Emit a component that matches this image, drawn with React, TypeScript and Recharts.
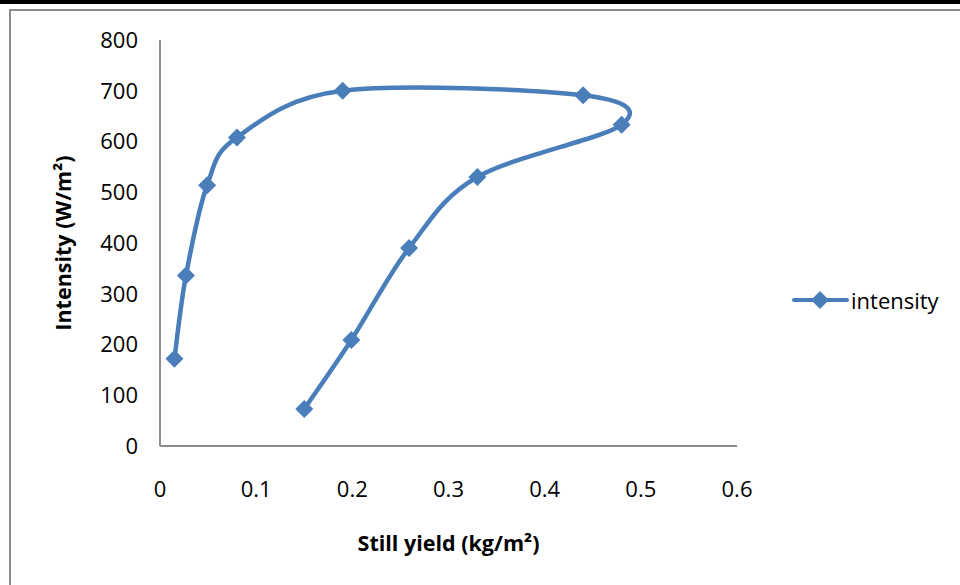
import React from "react"
import { LineChart, Line, XAxis, YAxis } from "recharts"

const stillYield = [0.015, 0.027, 0.049, 0.08, 0.19, 0.44, 0.48, 0.33, 0.259, 0.199, 0.15]
const intensity = [172, 336, 514, 608, 700, 691, 633, 530, 390, 209, 73]
const xTicks = [0, 0.1, 0.2, 0.3, 0.4, 0.5, 0.6]
const yTicks = [0, 100, 200, 300, 400, 500, 600, 700, 800]

const data = stillYield.map((x, i) => ({ x, intensity: intensity[i] }))

const BLUE = "#4a7ebb"
const FONT = "'Open Sans', Lato, sans-serif"

// smooth curve like Excel's "smoothed line" (Catmull-Rom as bezier)
const smoothCurve = (context: any) => {
  let pts: [number, number][] = []
  return {
    areaStart() {},
    areaEnd() {},
    lineStart() {
      pts = []
    },
    point(x: number, y: number) {
      pts.push([+x, +y])
    },
    lineEnd() {
      if (!pts.length) return
      context.moveTo(pts[0][0], pts[0][1])
      for (let i = 0; i < pts.length - 1; i++) {
        const p0 = pts[Math.max(0, i - 1)]
        const p1 = pts[i]
        const p2 = pts[i + 1]
        const p3 = pts[Math.min(pts.length - 1, i + 2)]
        context.bezierCurveTo(
          p1[0] + (p2[0] - p0[0]) / 6,
          p1[1] + (p2[1] - p0[1]) / 6,
          p2[0] - (p3[0] - p1[0]) / 6,
          p2[1] - (p3[1] - p1[1]) / 6,
          p2[0],
          p2[1]
        )
      }
    },
  }
}

function Diamond(props: any) {
  const { cx, cy } = props
  if (cx == null || cy == null) return null
  const r = 9
  return <path d={`M${cx},${cy - r}L${cx + r},${cy}L${cx},${cy + r}L${cx - r},${cy}Z`} fill={BLUE} />
}

function LegendBox() {
  return (
    <svg width={170} height={30} style={{ position: "absolute", left: 792, top: 285, overflow: "visible" }}>
      <line x1={2} y1={15} x2={55} y2={15} stroke={BLUE} strokeWidth={4} strokeLinecap="round" />
      <Diamond cx={28} cy={15} />
      <text x={59} y={15} dominantBaseline="central" fontSize={22} fontFamily={FONT} fill="#000">
        intensity
      </text>
    </svg>
  )
}

export default function App() {
  return (
    <div style={{ position: "fixed", left: 0, top: 0, width: 960, height: 585, background: "#fff", overflow: "hidden" }}>
      <div style={{ position: "absolute", left: 0, top: 0, width: 960, height: 4, background: "#000" }} />
      <div
        style={{
          position: "absolute",
          left: 9,
          top: 9,
          width: 980,
          height: 600,
          borderLeft: "2px solid #8c8c8c",
          borderTop: "2px solid #8c8c8c",
        }}
      />
      <div style={{ position: "absolute", left: 0, top: 0 }}>
        <LineChart width={960} height={585} data={data} margin={{ top: 40, right: 223, bottom: 0, left: 0 }}>
          <XAxis
            dataKey="x"
            type="number"
            domain={[0, 0.6]}
            ticks={xTicks}
            tickFormatter={(v: number) => String(+v.toFixed(1))}
            tickLine={false}
            tickSize={0}
            tickMargin={35}
            axisLine={{ stroke: "#8c8c8c", strokeWidth: 2 }}
            tick={{ fill: "#000", fontSize: 22, fontFamily: FONT }}
            interval={0}
            height={139}
            label={(p: any) => {
              const vb = p.viewBox
              return (
                <text
                  x={vb.x + vb.width / 2}
                  y={542}
                  textAnchor="middle"
                  dominantBaseline="central"
                  fontSize={21.5}
                  fontWeight="bold"
                  fontFamily={FONT}
                  fill="#000"
                >
                  Still yield (kg/m²)
                </text>
              )
            }}
          />
          <YAxis
            type="number"
            domain={[0, 800]}
            ticks={yTicks}
            width={160}
            tickLine={false}
            tickSize={0}
            tickMargin={22}
            axisLine={{ stroke: "#8c8c8c", strokeWidth: 2 }}
            tick={{ fill: "#000", fontSize: 22, fontFamily: FONT }}
            interval={0}
            label={(p: any) => {
              const vb = p.viewBox
              const cy = vb.y + vb.height / 2
              return (
                <text
                  x={62}
                  y={cy}
                  transform={`rotate(-90 62 ${cy})`}
                  textAnchor="middle"
                  dominantBaseline="central"
                  fontSize={21.5}
                  fontWeight="bold"
                  fontFamily={FONT}
                  fill="#000"
                >
                  Intensity (W/m²)
                </text>
              )
            }}
          />
          <Line
            dataKey="intensity"
            name="intensity"
            type={smoothCurve as any}
            stroke={BLUE}
            strokeWidth={4.5}
            dot={<Diamond />}
            activeDot={false}
            isAnimationActive={false}
          />
        </LineChart>
      </div>
      <LegendBox />
    </div>
  )
}
